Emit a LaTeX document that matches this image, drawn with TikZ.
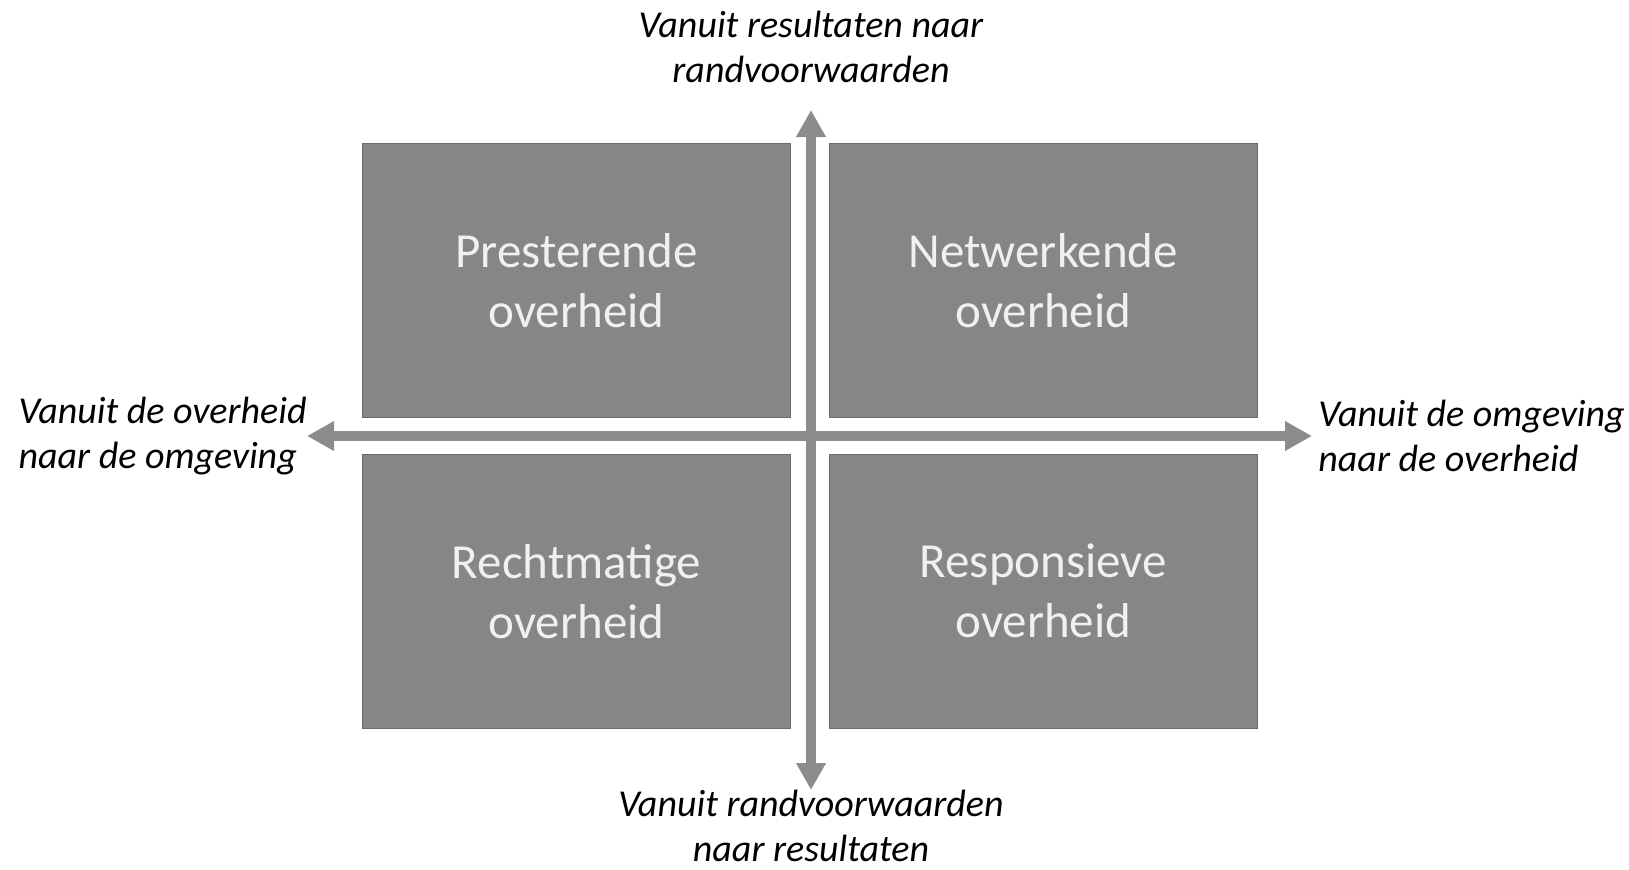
\documentclass[tikz,border=0pt]{standalone}
\usepackage{fontspec}
\setmainfont{Carlito}
\usetikzlibrary{positioning}
\usetikzlibrary{arrows.meta}
\definecolor{boxgray}{RGB}{134,134,134}
\definecolor{boxline}{RGB}{108,108,108}
\definecolor{axisgray}{RGB}{140,140,140}
\tikzset{
	quad/.style={
		rectangle,
		fill=boxgray,
		draw=boxline,
		text=white!94!black,
		align=center,
		minimum width=214pt,
		minimum height=137pt,
		font=\fontsize{24.5}{30}\selectfont
	},
	axislabel/.style={
		inner sep=0pt,
		font=\fontsize{19}{22.5}\selectfont\itshape
	},
	axisline/.style={
		draw=axisgray,
		line width=5pt,
		{Triangle[length=13.5pt,width=14pt]}-{Triangle[length=13.5pt,width=14pt]}
	}
}
\begin{document}
\begin{tikzpicture}[x=0.5pt,y=-0.5pt]
	\useasboundingbox (0,0) rectangle (1629,869);
	\node[quad] (Pres) at (576.5,280.5) {Presterende\\ overheid};
	\node[quad, right=19pt of Pres] (Netw) {Netwerkende\\ overheid};
	\node[quad, below=18pt of Pres] (Recht) {Rechtmatige\\ overheid};
	\node[quad, right=19pt of Recht] (Resp) {Responsieve\\ overheid};
	
	\coordinate (Top) at (811,110);
	\coordinate (Bottom) at (811,790);
	\coordinate (Left) at (307,436);
	\coordinate (Right) at (1312,436);
	
	\draw[axisline] (Bottom) -- (Top);
	\draw[axisline] (Left) -- (Right);
	
	\node[axislabel, align=center, above=13.5pt of Top] (Res) {Vanuit resultaten naar\\ randvoorwaarden};
	\node[axislabel, align=center, below=0pt of Bottom] (Rand) {Vanuit randvoorwaarden\\ naar resultaten};
	\node[axislabel, align=left, left=0pt of Left] (Over) {Vanuit de overheid\\ naar de omgeving};
	\node[axislabel, align=left, right=3pt of Right] (Omg) {Vanuit de omgeving\\ naar de overheid};
\end{tikzpicture}
\end{document}
